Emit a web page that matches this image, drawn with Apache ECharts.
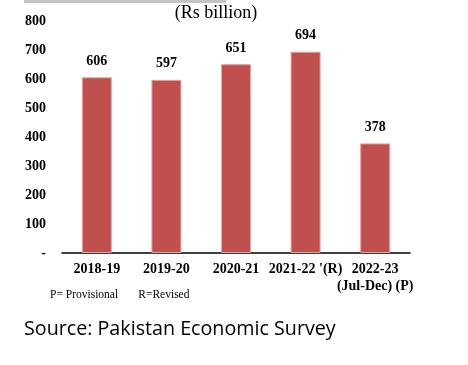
<!DOCTYPE html>
<html><head><meta charset="utf-8">
<style>html,body{margin:0;padding:0;background:#fff}#c{width:468px;height:365px}</style>
<script src="https://cdn.jsdelivr.net/npm/echarts@6/dist/echarts.min.js"></script>
</head><body><div id="c"></div>
<script>
var categories = ["2018-19", "2019-20", "2020-21", "2021-22 '(R)", "2022-23\n(Jul-Dec) (P)"];
var values = [606, 597, 651, 694, 378];
var yTicks = [0, 100, 200, 300, 400, 500, 600, 700, 800];
var unitTitle = "(Rs billion)";
var footnote = "P= Provisional       R=Revised";
var source = "Source: Pakistan Economic Survey";

var chart = echarts.init(document.getElementById('c'), null, {renderer: 'canvas'});
var serif = '"Liberation Serif", "Times New Roman", serif';
chart.setOption({
  animation: false,
  grid: {left: 62, right: 58, top: 21, bottom: 112},
  graphic: [
    {type: 'rect', shape: {x: 24, y: 0, width: 202, height: 3}, style: {fill: '#c3c3c3'}},
    {type: 'text', x: 216, y: 13, style: {text: unitTitle, font: '18px ' + serif, fill: '#000', textAlign: 'center', textVerticalAlign: 'middle'}},
    {type: 'text', x: 50, y: 295, style: {text: footnote, font: '11.5px ' + serif, fill: '#000', textVerticalAlign: 'middle'}},
    {type: 'text', x: 24, y: 329, style: {text: source, font: '19.7px "Open Sans", "Noto Sans", sans-serif', fill: '#000', textVerticalAlign: 'middle'}}
  ],
  xAxis: {type: 'category', data: categories,
    axisLine: {lineStyle: {color: '#000', width: 1.5}}, axisTick: {show: false},
    axisLabel: {fontFamily: serif, fontWeight: 'bold', fontSize: 14, color: '#000', margin: 8, lineHeight: 17, interval: 0}},
  yAxis: {type: 'value', min: 0, max: 800, interval: 100,
    splitLine: {show: false}, axisLine: {show: false}, axisTick: {show: false},
    axisLabel: {fontFamily: serif, fontWeight: 'bold', fontSize: 14, color: '#000', margin: 16,
      formatter: function (v) { return v === 0 ? '-' : String(v); }}},
  series: [{type: 'bar', data: values, barWidth: 30,
    itemStyle: {color: '#C0504D', borderColor: '#e6a3a1', borderWidth: 1},
    label: {show: true, position: 'top', distance: 9, fontFamily: serif, fontWeight: 'bold', fontSize: 14, color: '#000'}}]
});
</script></body></html>
